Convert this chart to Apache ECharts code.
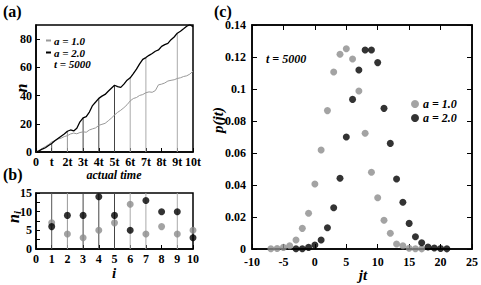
<!DOCTYPE html>
<html><head><meta charset="utf-8">
<script src="https://cdn.jsdelivr.net/npm/echarts@6/dist/echarts.min.js"></script>
<style>html,body{margin:0;padding:0;background:#fff}#c{width:481px;height:285px}</style>
</head><body><div id="c"></div>
<script>
// ---- panel (a): n vs actual time (step 0.2 t) ----
const timeStep = 0.2;
const tTickLabels = ['0','t','2t','3t','4t','5t','6t','7t','8t','9t','10t'];
const nA2 = [0,0.8,2.1,3.0,4.6,6.0,7.9,9.6,11.2,12.8,14.7,15.6,14.9,16.8,21.4,24.2,25.1,28.3,32.9,35.4,
  38.0,39.6,40.8,43.1,45.2,47.3,46.4,45.8,48.1,50.9,52.6,55.6,58.7,62.4,65.6,66.9,68.5,69.8,71.4,72.3,
  74.9,76.1,77.0,79.6,81.5,84.2,85.6,87.3,89.1,90.2,88.8];
const nA1 = [0,1.2,2.6,3.9,5.3,7.1,8.0,9.2,9.8,10.9,11.6,12.8,13.4,12.9,13.8,14.3,14.0,15.6,16.4,17.1,
  18.9,19.6,20.3,22.1,24.0,26.2,28.1,29.6,31.4,33.5,36.2,37.9,38.6,40.1,40.7,42.0,42.6,42.3,43.5,47.6,
  48.1,48.9,50.3,50.8,51.2,52.1,52.6,53.5,54.0,55.2,57.3];
// vertical markers (multiples of t) and their shade
const stemIdx = [1,2,3,4,5,6,7,9];
const stemShade = ['#555','#999','#444','#444','#444','#aaa','#aaa','#aaa'];
// ---- panel (b) ----
const iVals = [1,2,3,4,5,6,7,8,9,10];
const niA1 = [7,4,3,5,7,12,4,6,4,5];
const niA2 = [6,9,9,14,9,5,13,10,10,3];
// ---- panel (c) ----
const jt1 = [-7,-6,-5,-4,-3,-2,-1,0,1,2,3,4,5,6,7,8,9,10,11,12,13,14,15,16,17];
const p1 = [0.0002,0.0003,0.001,0.002,0.0056,0.0129,0.0223,0.0406,0.0619,0.0865,0.1106,0.1217,0.1252,
  0.1188,0.0988,0.0723,0.048,0.032,0.018,0.0098,0.0031,0.002,0.0005,0.0002,0.0001];
const jt2 = [-3,-2,-1,0,1,2,3,4,5,6,7,8,9,10,11,12,13,14,15,16,17,18,19,20,21];
const p2 = [0.0002,0.0002,0.001,0.0025,0.0056,0.0133,0.0258,0.0442,0.07,0.0935,0.1119,0.1244,0.1244,
  0.1165,0.0879,0.066,0.0437,0.0292,0.016,0.0077,0.0039,0.0013,0.0006,0.0003,0.0001];

const SERIF = 'Liberation Serif';
const lineA1 = nA1.map((v,i)=>[+(i*timeStep).toFixed(2), v]);
const lineA2 = nA2.map((v,i)=>[+(i*timeStep).toFixed(2), v]);
const stemsA = stemIdx.map((k,j)=>[k, nA2[Math.round(k/timeStep)], j]);
const stemsB = stemIdx.map((k,j)=>[k, 15, j]);

function stemRender(params, api){
  const x = api.value(0), top = api.value(1), j = api.value(2);
  const a = api.coord([x,0]), b = api.coord([x,top]);
  return {type:'line', shape:{x1:a[0],y1:a[1],x2:b[0],y2:b[1]}, style:{stroke:stemShade[j], lineWidth:1}};
}
const lab = {color:'#000', fontFamily:SERIF, fontWeight:'bold', fontSize:12};
const axLine = {show:true, onZero:false, lineStyle:{color:'#000', width:1.5}};
const tickIn = {show:true, inside:true, length:4, lineStyle:{color:'#000', width:1}};
const legText = {fontFamily:SERIF, fontStyle:'italic', fontWeight:'bold', fontSize:11, color:'#000', padding:[0,0,0,-2]};

const chart = echarts.init(document.getElementById('c'), null, {renderer:'svg'});
chart.setOption({
  animation:false,
  grid:[
    {left:36, top:25, width:157, height:127, show:true, borderColor:'#000', borderWidth:1.5},
    {left:36, top:193, width:157, height:56, show:true, borderColor:'#000', borderWidth:1.5},
    {left:252, top:25, width:221, height:224, show:true, borderColor:'#000', borderWidth:1.5}
  ],
  xAxis:[
    {gridIndex:0, type:'value', min:0, max:10, interval:1, axisLine:axLine, axisTick:tickIn, splitLine:{show:false},
     axisLabel:Object.assign({margin:4, formatter:v=>tTickLabels[Math.round(v)]}, lab)},
    {gridIndex:1, type:'value', min:0, max:10, interval:1, axisLine:axLine, axisTick:tickIn, splitLine:{show:false},
     axisLabel:Object.assign({margin:4}, lab)},
    {gridIndex:2, type:'value', min:-10, max:25, interval:5, axisLine:axLine, axisTick:Object.assign({},tickIn,{length:5}), splitLine:{show:false},
     axisLabel:Object.assign({margin:7}, lab)},
    {gridIndex:2, type:'value', position:'top', min:-10, max:25, interval:5, axisLine:axLine, axisTick:Object.assign({},tickIn,{length:5}), splitLine:{show:false},
     axisLabel:{show:false}}
  ],
  yAxis:[
    {gridIndex:0, type:'value', min:0, max:90, interval:20, axisLine:axLine, axisTick:tickIn, splitLine:{show:false},
     axisLabel:Object.assign({margin:4, showMaxLabel:false, formatter:v=>(v%20===0?String(v):'')}, lab)},
    {gridIndex:1, type:'value', min:0, max:15, interval:2.5, axisLine:axLine, axisTick:tickIn, splitLine:{show:false},
     axisLabel:Object.assign({margin:4, formatter:v=>(v%5===0?String(v):'')}, lab)},
    {gridIndex:2, type:'value', min:0, max:0.14, interval:0.02, axisLine:axLine, axisTick:Object.assign({},tickIn,{length:5}), splitLine:{show:false},
     axisLabel:Object.assign({margin:6, formatter:v=>String(+v.toFixed(2))}, lab)},
    {gridIndex:2, type:'value', position:'right', min:0, max:0.14, interval:0.02, axisLine:axLine, axisTick:Object.assign({},tickIn,{length:5}), splitLine:{show:false},
     axisLabel:{show:false}}
  ],
  legend:[
    {data:['a = 1.0','a = 2.0'], orient:'vertical', left:406, top:93, itemGap:2, itemWidth:8, itemHeight:8, icon:'circle',
     textStyle:{fontFamily:SERIF, fontStyle:'italic', fontWeight:'bold', fontSize:12, color:'#000', padding:[0,0,0,-1]}},
    {data:['lineA1'], left:46, top:35, itemWidth:5, itemHeight:2, icon:'rect', padding:0,
     formatter:()=>'a = 1.0', textStyle:legText},
    {data:['lineA2'], left:46, top:47, itemWidth:5, itemHeight:2, icon:'rect', padding:0,
     formatter:()=>'a = 2.0', textStyle:legText}
  ],
  series:[
    {type:'custom', xAxisIndex:0, yAxisIndex:0, data:stemsA, renderItem:stemRender, z:1, silent:true},
    {name:'lineA1', type:'line', xAxisIndex:0, yAxisIndex:0, data:lineA1, showSymbol:false, symbol:'none', color:'#999', lineStyle:{width:1, color:'#999'}, z:2},
    {name:'lineA2', type:'line', xAxisIndex:0, yAxisIndex:0, data:lineA2, showSymbol:false, symbol:'none', color:'#000', lineStyle:{width:1.3, color:'#000'}, z:3},
    {type:'custom', xAxisIndex:1, yAxisIndex:1, data:stemsB, renderItem:stemRender, z:1, silent:true},
    {type:'scatter', xAxisIndex:1, yAxisIndex:1, data:iVals.map((x,k)=>[x,niA1[k]]), symbolSize:7, itemStyle:{color:'#8c8c8c'}, z:3},
    {type:'scatter', xAxisIndex:1, yAxisIndex:1, data:iVals.map((x,k)=>[x,niA2[k]]), symbolSize:7, itemStyle:{color:'#000'}, z:4},
    {name:'a = 1.0', type:'scatter', xAxisIndex:2, yAxisIndex:2, data:jt1.map((x,k)=>[x,p1[k]]), symbolSize:7, itemStyle:{color:'#8c8c8c'}, z:3},
    {name:'a = 2.0', type:'scatter', xAxisIndex:2, yAxisIndex:2, data:jt2.map((x,k)=>[x,p2[k]]), symbolSize:7, itemStyle:{color:'#000'}, z:4}
  ],
  graphic:[
    {type:'text', left:3, top:3, style:{text:'(a)', fontFamily:SERIF, fontWeight:'bold', fontSize:16, fill:'#000'}},
    {type:'text', left:3, top:166, style:{text:'(b)', fontFamily:SERIF, fontWeight:'bold', fontSize:16, fill:'#000'}},
    {type:'text', left:214, top:3, style:{text:'(c)', fontFamily:SERIF, fontWeight:'bold', fontSize:16, fill:'#000'}},
    {type:'text', x:114, y:175, style:{text:'actual time', fontFamily:SERIF, fontStyle:'italic', fontWeight:'bold', fontSize:12, fill:'#000', align:'center', verticalAlign:'middle'}},
    {type:'text', x:54, y:64, style:{text:'t = 5000', fontFamily:SERIF, fontStyle:'italic', fontWeight:'bold', fontSize:11, fill:'#000', align:'left', verticalAlign:'middle'}},
    {type:'text', x:266, y:59, style:{text:'t = 5000', fontFamily:SERIF, fontStyle:'italic', fontWeight:'bold', fontSize:12, fill:'#000', align:'left', verticalAlign:'middle'}},
    {type:'text', x:21, y:88, rotation:Math.PI/2, style:{text:'n', fontFamily:SERIF, fontStyle:'italic', fontWeight:'bold', fontSize:16, fill:'#000', align:'center', verticalAlign:'middle'}},
    {type:'text', x:13, y:217, rotation:Math.PI/2, style:{text:'{n|n}{s|i}', rich:{n:{fontFamily:SERIF, fontStyle:'italic', fontWeight:'bold', fontSize:16, fill:'#000'}, s:{fontFamily:SERIF, fontStyle:'italic', fontWeight:'bold', fontSize:11, fill:'#000', padding:[8,0,0,0]}}, align:'center', verticalAlign:'middle'}},
    {type:'text', x:114, y:273, style:{text:'i', fontFamily:SERIF, fontStyle:'italic', fontWeight:'bold', fontSize:15, fill:'#000', align:'center', verticalAlign:'middle'}},
    {type:'text', x:363, y:275, style:{text:'jt', fontFamily:SERIF, fontStyle:'italic', fontWeight:'bold', fontSize:15, fill:'#000', align:'center', verticalAlign:'middle'}},
    {type:'text', x:218, y:120, rotation:Math.PI/2, style:{text:'p(jt)', fontFamily:SERIF, fontStyle:'italic', fontWeight:'bold', fontSize:15, fill:'#000', align:'center', verticalAlign:'middle'}}
  ]
});
</script></body></html>
